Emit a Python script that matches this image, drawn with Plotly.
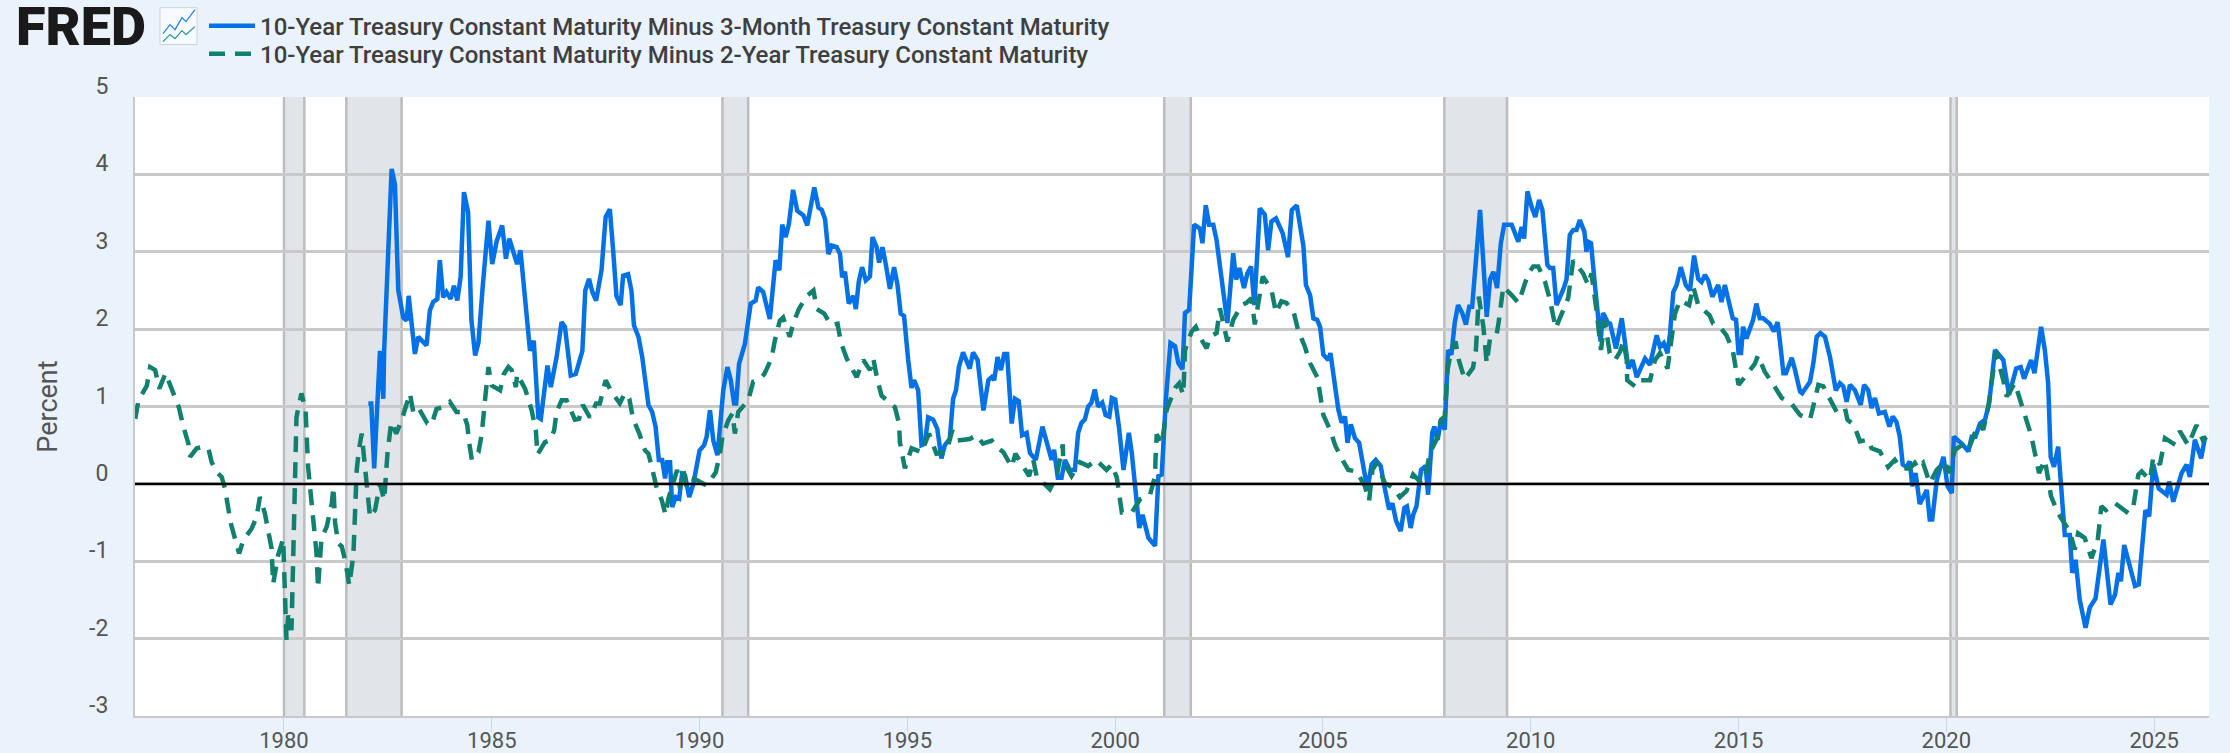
import plotly.graph_objects as go

W, H = 2230, 753
L, R, T, B = 135, 2209, 96.5, 716.5

name_3m = "10-Year Treasury Constant Maturity Minus 3-Month Treasury Constant Maturity"
name_2y = "10-Year Treasury Constant Maturity Minus 2-Year Treasury Constant Maturity"

t3m_years = [
    1982.03, 1982.10, 1982.17, 1982.31, 1982.39, 1982.41, 1982.59, 1982.67, 1982.75, 1982.87, 1982.95, 1983.00,
    1983.15, 1983.23, 1983.43, 1983.51, 1983.59, 1983.69, 1983.75, 1983.83, 1983.91, 1984.01, 1984.09, 1984.17,
    1984.25, 1984.33, 1984.43, 1984.51, 1984.60, 1984.68, 1984.78, 1984.92, 1985.01, 1985.12, 1985.25, 1985.34,
    1985.42, 1985.52, 1985.61, 1985.69, 1985.80, 1985.92, 1986.01, 1986.12, 1986.18, 1986.34, 1986.42, 1986.56,
    1986.68, 1986.76, 1986.90, 1987.02, 1987.18, 1987.25, 1987.34, 1987.42, 1987.51, 1987.64, 1987.74, 1987.84,
    1987.92, 1988.00, 1988.10, 1988.16, 1988.28, 1988.36, 1988.42, 1988.53, 1988.62, 1988.77, 1988.86, 1988.94,
    1989.02, 1989.10, 1989.17, 1989.22, 1989.29, 1989.34, 1989.43, 1989.51, 1989.58, 1989.65, 1989.75, 1989.85,
    1990.00, 1990.11, 1990.17, 1990.25, 1990.33, 1990.43, 1990.57, 1990.67, 1990.75, 1990.83, 1990.88, 1990.95,
    1991.09, 1991.23, 1991.35, 1991.41, 1991.53, 1991.69, 1991.83, 1991.92, 1991.99, 1992.07, 1992.15, 1992.25,
    1992.35, 1992.50, 1992.59, 1992.76, 1992.86, 1992.94, 1993.02, 1993.10, 1993.18, 1993.30, 1993.38, 1993.43,
    1993.50, 1993.59, 1993.70, 1993.76, 1993.83, 1993.91, 1994.00, 1994.10, 1994.16, 1994.26, 1994.32, 1994.40,
    1994.48, 1994.58, 1994.68, 1994.76, 1994.84, 1994.92, 1995.02, 1995.10, 1995.16, 1995.26, 1995.34, 1995.42,
    1995.50, 1995.62, 1995.72, 1995.82, 1995.90, 1996.02, 1996.10, 1996.17, 1996.24, 1996.34, 1996.50, 1996.58,
    1996.69, 1996.83, 1996.95, 1997.03, 1997.09, 1997.17, 1997.25, 1997.33, 1997.40, 1997.51, 1997.59, 1997.68,
    1997.76, 1997.87, 1997.95, 1998.09, 1998.25, 1998.41, 1998.47, 1998.53, 1998.62, 1998.71, 1998.79, 1998.91,
    1999.03, 1999.11, 1999.19, 1999.27, 1999.35, 1999.43, 1999.51, 1999.59, 1999.69, 1999.77, 1999.86, 1999.92,
    2000.00, 2000.09, 2000.20, 2000.33, 2000.40, 2000.48, 2000.58, 2000.66, 2000.80, 2000.96, 2001.04, 2001.12,
    2001.22, 2001.33, 2001.44, 2001.52, 2001.62, 2001.68, 2001.78, 2001.90, 2002.04, 2002.10, 2002.18, 2002.26,
    2002.36, 2002.44, 2002.56, 2002.70, 2002.84, 2002.91, 2002.99, 2003.04, 2003.10, 2003.18, 2003.27, 2003.35,
    2003.48, 2003.60, 2003.68, 2003.76, 2003.87, 2004.03, 2004.16, 2004.25, 2004.37, 2004.53, 2004.59, 2004.69,
    2004.77, 2004.86, 2004.93, 2005.01, 2005.13, 2005.18, 2005.37, 2005.45, 2005.53, 2005.59, 2005.67, 2005.77,
    2005.87, 2006.07, 2006.17, 2006.27, 2006.39, 2006.47, 2006.59, 2006.67, 2006.76, 2006.87, 2006.96, 2007.02,
    2007.11, 2007.17, 2007.25, 2007.36, 2007.47, 2007.53, 2007.63, 2007.68, 2007.76, 2007.84, 2007.93, 2008.01,
    2008.09, 2008.17, 2008.25, 2008.35, 2008.44, 2008.52, 2008.59, 2008.78, 2008.86, 2008.94, 2009.02, 2009.10,
    2009.19, 2009.28, 2009.36, 2009.54, 2009.70, 2009.78, 2009.84, 2009.92, 2010.02, 2010.11, 2010.20, 2010.28,
    2010.40, 2010.46, 2010.54, 2010.62, 2010.78, 2010.86, 2010.94, 2011.02, 2011.10, 2011.18, 2011.29, 2011.34,
    2011.38, 2011.45, 2011.54, 2011.68, 2011.74, 2011.86, 2011.91, 2012.05, 2012.19, 2012.35, 2012.45, 2012.55,
    2012.75, 2012.87, 2013.03, 2013.11, 2013.20, 2013.29, 2013.35, 2013.43, 2013.51, 2013.61, 2013.73, 2013.83,
    2013.93, 2014.03, 2014.11, 2014.19, 2014.27, 2014.37, 2014.51, 2014.59, 2014.67, 2014.78, 2014.86, 2014.94,
    2015.00, 2015.06, 2015.11, 2015.19, 2015.35, 2015.43, 2015.51, 2015.59, 2015.75, 2015.85, 2015.94, 2016.00,
    2016.08, 2016.14, 2016.28, 2016.36, 2016.48, 2016.53, 2016.72, 2016.80, 2016.88, 2016.97, 2017.08, 2017.20,
    2017.34, 2017.44, 2017.52, 2017.60, 2017.68, 2017.80, 2017.94, 2018.02, 2018.12, 2018.20, 2018.28, 2018.38,
    2018.52, 2018.63, 2018.71, 2018.80, 2018.88, 2018.95, 2019.04, 2019.12, 2019.18, 2019.26, 2019.36, 2019.53,
    2019.60, 2019.66, 2019.77, 2019.93, 2020.03, 2020.13, 2020.18, 2020.37, 2020.53, 2020.61, 2020.70, 2020.81,
    2020.93, 2021.03, 2021.17, 2021.37, 2021.51, 2021.68, 2021.79, 2021.87, 2022.04, 2022.12, 2022.28, 2022.37,
    2022.45, 2022.51, 2022.59, 2022.69, 2022.77, 2022.85, 2022.97, 2023.03, 2023.11, 2023.21, 2023.35, 2023.45,
    2023.59, 2023.78, 2023.95, 2024.06, 2024.14, 2024.20, 2024.28, 2024.54, 2024.63, 2024.79, 2024.88, 2024.98,
    2025.11, 2025.30, 2025.36, 2025.46, 2025.66, 2025.78, 2025.86, 2025.98, 2026.13, 2026.22, 2026.26,
]
t3m_values = [
    1.04, 1.04, 0.20, 1.72, 1.10, 1.72, 4.07, 3.87, 2.50, 2.15, 2.11, 2.43,
    1.68, 1.90, 1.79, 2.24, 2.35, 2.39, 2.89, 2.41, 2.48, 2.39, 2.56, 2.37,
    2.67, 3.77, 3.51, 2.11, 1.66, 1.83, 2.54, 3.40, 2.84, 3.14, 3.34, 2.91,
    3.17, 2.99, 2.84, 3.02, 2.41, 1.72, 1.85, 0.86, 0.84, 1.53, 1.25, 1.64,
    2.09, 2.03, 1.40, 1.42, 1.72, 2.50, 2.65, 2.48, 2.37, 2.76, 3.45, 3.55,
    3.02, 2.43, 2.31, 2.69, 2.71, 2.50, 2.05, 1.90, 1.64, 1.02, 0.93, 0.74,
    0.31, 0.31, 0.07, 0.28, 0.28, -0.30, -0.17, -0.19, 0.13, 0.11, -0.17, 0.00,
    0.43, 0.50, 0.61, 0.95, 0.56, 0.37, 1.21, 1.51, 1.34, 1.04, 1.04, 1.55,
    1.81, 2.33, 2.37, 2.54, 2.48, 2.13, 2.89, 2.76, 3.35, 3.19, 3.36, 3.80,
    3.53, 3.47, 3.34, 3.83, 3.57, 3.54, 3.42, 2.97, 3.08, 3.06, 2.97, 2.67,
    2.74, 2.33, 2.43, 2.26, 2.61, 2.80, 2.63, 2.68, 3.19, 3.06, 2.86, 3.06,
    2.84, 2.52, 2.80, 2.58, 2.20, 2.17, 1.60, 1.24, 1.34, 1.21, 0.50, 0.52,
    0.86, 0.83, 0.71, 0.33, 0.50, 0.58, 1.10, 1.21, 1.51, 1.70, 1.49, 1.70,
    1.60, 0.95, 1.34, 1.38, 1.34, 1.64, 1.47, 1.68, 1.68, 0.78, 1.10, 1.07,
    0.63, 0.66, 0.40, 0.31, 0.74, 0.44, 0.31, 0.44, 0.08, 0.08, 0.31, 0.18,
    0.18, 0.66, 0.79, 0.83, 1.00, 1.05, 1.22, 1.00, 1.05, 0.89, 0.87, 1.11,
    1.09, 0.74, 0.18, 0.66, 0.40, -0.03, -0.57, -0.40, -0.70, -0.80, 0.10, 0.12,
    1.09, 1.82, 1.78, 1.56, 1.48, 2.21, 2.25, 3.35, 3.30, 3.11, 3.60, 3.35,
    3.35, 3.15, 2.64, 2.08, 2.98, 2.64, 2.79, 2.64, 2.53, 2.72, 2.81, 2.31,
    3.56, 3.48, 3.02, 3.39, 3.43, 3.24, 2.93, 3.54, 3.60, 3.07, 2.57, 2.44,
    2.14, 2.12, 2.03, 1.67, 1.60, 1.69, 0.96, 0.79, 0.87, 0.53, 0.77, 0.59,
    0.53, -0.07, 0.25, 0.31, 0.23, -0.01, -0.33, -0.25, -0.48, -0.61, -0.31, -0.29,
    -0.57, -0.40, -0.29, 0.18, 0.23, -0.14, 0.66, 0.74, 0.57, 0.83, 0.70, 1.73,
    1.67, 2.08, 2.31, 2.21, 2.06, 2.29, 2.29, 3.54, 2.77, 2.16, 2.64, 2.74,
    2.53, 3.11, 3.35, 3.35, 3.13, 3.32, 3.17, 3.78, 3.58, 3.45, 3.67, 3.54,
    2.83, 2.79, 2.79, 2.31, 2.51, 2.64, 3.22, 3.28, 3.28, 3.41, 3.26, 3.00,
    3.13, 3.11, 2.59, 1.84, 2.21, 2.08, 2.07, 1.75, 2.14, 1.49, 1.60, 1.38,
    1.62, 1.54, 1.92, 1.77, 1.82, 1.69, 1.94, 2.48, 2.57, 2.80, 2.57, 2.50,
    2.95, 2.65, 2.61, 2.70, 2.63, 2.42, 2.57, 2.35, 2.57, 2.31, 2.14, 2.12,
    1.69, 1.69, 2.03, 1.88, 2.12, 2.33, 2.14, 2.14, 2.07, 1.97, 2.09, 1.82,
    1.43, 1.43, 1.63, 1.47, 1.19, 1.17, 1.32, 1.56, 1.90, 1.95, 1.90, 1.64,
    1.21, 1.30, 1.26, 1.06, 1.28, 1.21, 1.02, 1.28, 1.21, 0.98, 1.11, 0.91,
    0.93, 0.74, 0.87, 0.80, 0.61, 0.25, 0.22, 0.29, -0.03, 0.14, -0.26, -0.08,
    -0.46, -0.46, 0.05, 0.35, -0.03, -0.12, 0.61, 0.52, 0.42, 0.61, 0.61, 0.78,
    0.83, 1.04, 1.73, 1.60, 1.15, 1.49, 1.51, 1.36, 1.60, 1.43, 2.03, 1.73,
    1.30, 0.35, 0.22, 0.48, -0.03, -0.66, -0.66, -1.15, -0.98, -1.50, -1.86, -1.60,
    -1.48, -0.72, -1.56, -1.43, -1.15, -1.26, -0.79, -1.32, -1.30, -0.34, -0.42, 0.25,
    -0.06, -0.14, 0.03, -0.23, 0.14, 0.25, 0.09, 0.57, 0.33, 0.59, 0.60,
]

t2y_years = [
    1976.42, 1976.50, 1976.70, 1976.78, 1976.90, 1977.00, 1977.15, 1977.34, 1977.47, 1977.58, 1977.70, 1977.74,
    1977.90, 1978.06, 1978.18, 1978.26, 1978.38, 1978.50, 1978.58, 1978.72, 1978.82, 1978.92, 1979.02, 1979.22,
    1979.34, 1979.42, 1979.54, 1979.62, 1979.70, 1979.74, 1979.86, 1979.98, 1980.02, 1980.06, 1980.10, 1980.18,
    1980.22, 1980.26, 1980.30, 1980.42, 1980.52, 1980.58, 1980.70, 1980.78, 1980.82, 1980.86, 1980.90, 1981.03,
    1981.15, 1981.19, 1981.23, 1981.31, 1981.39, 1981.48, 1981.57, 1981.67, 1981.71, 1981.75, 1981.80, 1981.87,
    1981.91, 1981.95, 1982.00, 1982.07, 1982.19, 1982.31, 1982.41, 1982.49, 1982.58, 1982.70, 1982.83, 1983.03,
    1983.11, 1983.23, 1983.45, 1983.55, 1983.67, 1983.83, 1983.99, 1984.15, 1984.31, 1984.41, 1984.46, 1984.52,
    1984.68, 1984.76, 1984.84, 1984.92, 1985.00, 1985.20, 1985.29, 1985.40, 1985.48, 1985.58, 1985.61, 1985.80,
    1985.96, 1986.06, 1986.10, 1986.28, 1986.40, 1986.50, 1986.56, 1986.68, 1986.80, 1987.00, 1987.10, 1987.19,
    1987.36, 1987.51, 1987.60, 1987.74, 1987.88, 1988.08, 1988.20, 1988.31, 1988.40, 1988.55, 1988.69, 1988.77,
    1988.85, 1988.97, 1989.09, 1989.18, 1989.25, 1989.37, 1989.46, 1989.53, 1989.61, 1989.69, 1989.81, 1989.93,
    1990.17, 1990.39, 1990.49, 1990.55, 1990.69, 1990.79, 1990.85, 1990.93, 1991.17, 1991.29, 1991.41, 1991.56,
    1991.73, 1991.81, 1991.93, 1992.01, 1992.17, 1992.25, 1992.39, 1992.58, 1992.74, 1992.82, 1993.00, 1993.16,
    1993.32, 1993.40, 1993.54, 1993.78, 1993.94, 1994.10, 1994.18, 1994.28, 1994.38, 1994.70, 1994.80, 1994.82,
    1994.94, 1995.10, 1995.34, 1995.52, 1995.70, 1995.94, 1996.08, 1996.20, 1996.50, 1996.66, 1996.82, 1997.03,
    1997.19, 1997.31, 1997.51, 1997.60, 1997.75, 1997.93, 1998.03, 1998.11, 1998.43, 1998.59, 1998.74, 1998.75,
    1998.95, 1999.15, 1999.35, 1999.54, 1999.79, 1999.92, 2000.04, 2000.10, 2000.16, 2000.40, 2000.60, 2000.84,
    2000.96, 2000.97, 2001.00, 2001.12, 2001.24, 2001.44, 2001.54, 2001.64, 2001.68, 2001.84, 2001.94, 2002.08,
    2002.20, 2002.28, 2002.44, 2002.52, 2002.70, 2002.84, 2003.04, 2003.16, 2003.28, 2003.36, 2003.44, 2003.55,
    2003.76, 2003.87, 2004.00, 2004.12, 2004.30, 2004.40, 2004.56, 2004.69, 2004.87, 2004.93, 2005.01, 2005.17,
    2005.30, 2005.49, 2005.61, 2005.81, 2006.01, 2006.11, 2006.19, 2006.29, 2006.49, 2006.69, 2006.85, 2007.01,
    2007.17, 2007.37, 2007.49, 2007.57, 2007.73, 2007.84, 2007.93, 2008.00, 2008.09, 2008.19, 2008.27, 2008.41,
    2008.61, 2008.68, 2008.75, 2008.86, 2008.94, 2009.02, 2009.18, 2009.23, 2009.34, 2009.54, 2009.70, 2009.78,
    2009.94, 2010.06, 2010.18, 2010.34, 2010.46, 2010.60, 2010.74, 2010.90, 2011.02, 2011.26, 2011.38, 2011.46,
    2011.58, 2011.69, 2011.78, 2011.90, 2012.03, 2012.15, 2012.23, 2012.31, 2012.32, 2012.51, 2012.59, 2012.87,
    2012.99, 2013.11, 2013.29, 2013.39, 2013.47, 2013.59, 2013.81, 2013.91, 2014.03, 2014.30, 2014.39, 2014.55,
    2014.71, 2014.86, 2014.94, 2015.00, 2015.15, 2015.39, 2015.47, 2015.63, 2015.84, 2016.04, 2016.24, 2016.48,
    2016.72, 2016.81, 2016.92, 2017.04, 2017.16, 2017.36, 2017.56, 2017.62, 2017.78, 2017.92, 2018.12, 2018.20,
    2018.40, 2018.60, 2018.76, 2018.88, 2019.04, 2019.12, 2019.24, 2019.32, 2019.44, 2019.60, 2019.77, 2019.97,
    2020.05, 2020.21, 2020.37, 2020.53, 2020.65, 2020.77, 2020.89, 2021.01, 2021.13, 2021.19, 2021.37, 2021.45,
    2021.65, 2021.77, 2021.89, 2022.04, 2022.13, 2022.23, 2022.37, 2022.45, 2022.52, 2022.69, 2022.85, 2022.97,
    2023.09, 2023.17, 2023.33, 2023.49, 2023.64, 2023.73, 2023.84, 2024.06, 2024.38, 2024.50, 2024.62, 2024.70,
    2024.90, 2024.98, 2025.14, 2025.26, 2025.46, 2025.62, 2025.82, 2026.02, 2026.17, 2026.26,
]
t2y_values = [
    0.84, 1.08, 1.27, 1.51, 1.47, 1.23, 1.43, 1.19, 0.99, 0.74, 0.52, 0.35,
    0.46, 0.48, 0.46, 0.28, 0.15, 0.09, -0.06, -0.51, -0.73, -0.90, -0.73, -0.58,
    -0.43, -0.17, -0.38, -0.62, -0.83, -1.29, -0.92, -0.71, -1.20, -2.02, -1.70, -1.89,
    -1.00, -0.20, 0.86, 1.17, 0.95, 0.22, -0.43, -0.88, -1.35, -0.98, -0.71, -0.55,
    -0.25, -0.04, -0.51, -0.77, -0.81, -1.01, -1.31, -0.92, -0.30, 0.18, 0.43, 0.65,
    0.43, 0.18, -0.04, -0.43, -0.34, 0.00, -0.21, 0.39, 0.80, 0.65, 0.82, 1.17,
    0.93, 0.99, 0.78, 0.76, 0.97, 0.99, 1.06, 0.93, 0.93, 0.76, 0.52, 0.31,
    0.41, 0.65, 1.10, 1.51, 1.27, 1.21, 1.42, 1.51, 1.47, 1.25, 1.42, 1.23,
    0.95, 0.69, 0.38, 0.54, 0.56, 0.69, 0.93, 1.08, 1.08, 0.83, 0.84, 1.02,
    0.86, 1.04, 1.04, 1.34, 1.19, 1.04, 1.17, 1.10, 0.84, 0.65, 0.43, 0.39,
    0.22, -0.06, -0.21, -0.40, -0.19, 0.05, 0.18, -0.06, 0.18, -0.04, 0.07, 0.05,
    -0.02, 0.15, 0.39, 0.61, 0.82, 0.91, 0.65, 0.93, 1.08, 1.32, 1.34, 1.42,
    1.62, 1.85, 2.11, 2.15, 1.90, 2.07, 2.26, 2.43, 2.50, 2.26, 2.20, 2.05,
    2.07, 1.83, 1.62, 1.38, 1.60, 1.47, 1.62, 1.34, 1.14, 0.99, 0.78, 0.54,
    0.20, 0.46, 0.41, 0.65, 0.39, 0.41, 0.69, 0.56, 0.58, 0.63, 0.52, 0.56,
    0.46, 0.41, 0.22, 0.39, 0.26, 0.10, 0.31, 0.10, -0.07, 0.10, 0.51, 0.29,
    0.10, 0.28, 0.23, 0.31, 0.18, 0.25, 0.08, -0.14, -0.37, -0.37, -0.20, -0.14,
    0.10, 0.31, 0.64, 0.51, 0.96, 1.24, 1.30, 1.15, 1.73, 1.97, 2.03, 1.86,
    1.75, 1.90, 1.95, 2.27, 1.84, 2.12, 2.31, 2.34, 2.40, 2.06, 2.29, 2.68,
    2.51, 2.21, 2.36, 2.34, 2.21, 1.99, 1.78, 1.56, 1.37, 1.13, 0.89, 0.70,
    0.49, 0.29, 0.18, 0.16, -0.03, -0.22, 0.18, 0.27, 0.01, -0.05, -0.17, -0.09,
    0.12, 0.01, 0.16, 0.40, 0.57, 0.83, 0.87, 1.48, 1.73, 1.84, 1.60, 1.35,
    1.50, 1.73, 2.42, 2.03, 1.56, 1.88, 1.93, 2.10, 2.55, 2.44, 2.34, 2.46,
    2.72, 2.81, 2.81, 2.62, 2.38, 2.01, 2.21, 2.40, 2.89, 2.72, 2.57, 2.72,
    2.25, 1.73, 2.12, 1.69, 1.60, 1.71, 1.84, 1.60, 1.34, 1.26, 1.34, 1.34,
    1.60, 1.69, 1.49, 1.92, 2.20, 2.37, 2.31, 2.55, 2.31, 2.18, 2.07, 2.03,
    1.92, 1.73, 1.49, 1.28, 1.38, 1.55, 1.66, 1.45, 1.28, 1.11, 1.06, 0.89,
    0.83, 1.06, 1.28, 1.26, 1.13, 0.93, 0.98, 0.83, 0.76, 0.55, 0.57, 0.46,
    0.42, 0.22, 0.31, 0.22, 0.20, 0.20, 0.27, 0.20, 0.27, 0.01, 0.18, 0.29,
    0.14, 0.44, 0.50, 0.44, 0.61, 0.78, 0.70, 1.00, 1.47, 1.71, 1.34, 1.13,
    1.30, 1.08, 0.87, 0.63, 0.40, 0.14, 0.31, 0.07, -0.16, -0.38, -0.53, -0.62,
    -0.85, -0.64, -0.70, -0.96, -0.74, -0.29, -0.34, -0.25, -0.38, -0.29, 0.12, 0.16,
    0.05, 0.35, 0.25, 0.59, 0.52, 0.68, 0.50, 0.76, 0.57, 0.61,
]

recessions = [
    (1980.00, 1980.49), (1981.50, 1982.83), (1990.55, 1991.17),
    (2001.18, 2001.82), (2007.92, 2009.43), (2020.10, 2020.25),
]
year_ticks = [1980, 1985, 1990, 1995, 2000, 2005, 2010, 2015, 2020, 2025]
pct_ticks = [-3, -2, -1, 0, 1, 2, 3, 4, 5]
x_range = [1976.415, 2026.32]
y_range = [-3, 5]

BLUE, GREEN = "#0571e6", "#12806f"
GRID = "#c9c9c9"
TEXT = "#555555"
BG = "#eaf2fb"


def px(x):
    return (x - L) / (R - L)


def py(y):
    return (B - y) / (B - T)


fig = go.Figure()
fig.add_trace(go.Scatter(x=t3m_years, y=t3m_values, name=name_3m, mode="lines", legend="legend",
                         line=dict(color=BLUE, width=4.5)))
fig.add_trace(go.Scatter(x=t2y_years, y=t2y_values, name=name_2y, mode="lines", legend="legend2",
                         line=dict(color=GREEN, width=4.5, dash="16px,10px")))

shapes = []
for a, b in recessions:
    shapes.append(dict(type="rect", xref="x", yref="paper", x0=a, x1=b, y0=0, y1=1,
                       layer="below", fillcolor="#e1e5ea", line=dict(width=0)))
    for edge in (a, b):
        shapes.append(dict(type="line", xref="x", yref="paper", x0=edge, x1=edge, y0=0, y1=1,
                           layer="below", line=dict(color="#bdbdbd", width=2.5)))
shapes.append(dict(type="line", xref="paper", yref="y", x0=0, x1=1, y0=0, y1=0,
                   layer="above", line=dict(color="#000000", width=2.5)))

# FRED graph icon beside the logo
shapes.append(dict(type="rect", xref="paper", yref="paper", x0=px(160), x1=px(197), y0=py(44), y1=py(7),
                   layer="above", fillcolor="#f7fbff", line=dict(color="#c9d3dd", width=1)))
shapes.append(dict(type="path", xref="paper", yref="paper",
                   path="M %f %f L %f %f L %f %f L %f %f L %f %f L %f %f" % (
                       px(163), py(33), px(170), py(24), px(175), py(29),
                       px(182), py(17), px(186), py(21), px(195), py(9)),
                   layer="above", line=dict(color="#2f80e0", width=1.3)))
shapes.append(dict(type="path", xref="paper", yref="paper",
                   path="M %f %f L %f %f L %f %f L %f %f L %f %f L %f %f" % (
                       px(163), py(41), px(170), py(34), px(175), py(38),
                       px(182), py(30), px(186), py(34), px(195), py(26)),
                   layer="above", line=dict(color="#2f9c8a", width=1.3)))

legend_font = dict(family="Roboto", size=24, color="#3f3f3f", weight=500)

fig.update_layout(
    width=W, height=H, autosize=False,
    margin=dict(l=L, r=W - R, t=T, b=H - B, pad=0, autoexpand=False),
    paper_bgcolor=BG, plot_bgcolor="#ffffff",
    font=dict(family="Roboto", color=TEXT, size=20),
    shapes=shapes,
    showlegend=True,
    legend=dict(x=px(204), y=py(3), xanchor="left", yanchor="top", bgcolor="rgba(0,0,0,0)",
                font=legend_font, itemwidth=46),
    legend2=dict(x=px(204), y=py(31), xanchor="left", yanchor="top", bgcolor="rgba(0,0,0,0)",
                 font=legend_font, itemwidth=46),
    xaxis=dict(range=x_range, tickmode="array", tickvals=year_ticks, automargin=False,
               ticktext=[str(v) for v in year_ticks],
               showgrid=False, zeroline=False, showline=True, linecolor=GRID, linewidth=2,
               ticks="outside", ticklen=14, tickwidth=1, tickcolor="#ccd6eb", ticklabelstandoff=-10,
               tickfont=dict(family="Roboto", size=22, color=TEXT)),
    yaxis=dict(range=y_range, tickmode="array", tickvals=pct_ticks, automargin=False,
               ticktext=[str(v) for v in pct_ticks],
               showgrid=True, gridcolor=GRID, gridwidth=2.5, zeroline=False,
               showline=True, linecolor=GRID, linewidth=2,
               ticks="", ticklabelstandoff=20, ticklabelshift=-11,
               tickfont=dict(family="Roboto", size=23, color=TEXT),
               title=dict(text="Percent", standoff=24, font=dict(family="Roboto", size=27, color=TEXT))),
    annotations=[dict(text="FRED", xref="paper", yref="paper", x=px(14), y=py(25),
                      xanchor="left", yanchor="middle", showarrow=False, height=46, width=140,
                      align="left", valign="middle",
                      font=dict(family="Roboto", size=54, color="#1a1a1a", weight=900))],
)

assert len(t3m_years) == len(t3m_values), (len(t3m_years), len(t3m_values))
assert len(t2y_years) == len(t2y_values), (len(t2y_years), len(t2y_values))

fig.write_html("out.html", config=dict(displayModeBar=False),
               post_script="document.body.style.margin='0';document.body.style.overflow='hidden';")
